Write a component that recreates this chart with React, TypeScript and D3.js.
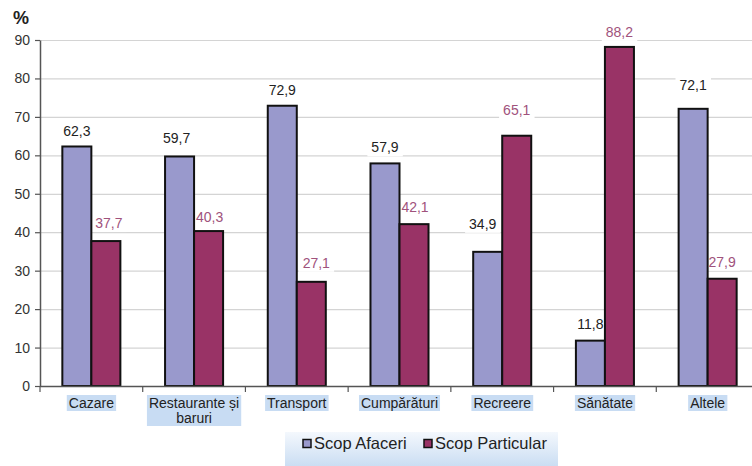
import React, { useEffect, useRef } from "react";
import * as d3 from "d3";

// Categories of spending and the share (%) by purpose of travel
const categories: string[][] = [
  ["Cazare"],
  ["Restaurante și", "baruri"],
  ["Transport"],
  ["Cumpărături"],
  ["Recreere"],
  ["Sănătate"],
  ["Altele"],
];
const seriesNames = ["Scop Afaceri", "Scop Particular"];
const afaceri = [62.3, 59.7, 72.9, 57.9, 34.9, 11.8, 72.1];
const particular = [37.7, 40.3, 27.1, 42.1, 65.1, 88.2, 27.9];
const yTicks = [0, 10, 20, 30, 40, 50, 60, 70, 80, 90];

// Layout
const W = 752;
const H = 466;
const left = 40;
const right = 759;
const top = 40;
const bottom = 386;
const colors = ["#9999cc", "#993366"];
const labelColors = ["#222222", "#a0527c"];
const FONT = "'Liberation Sans', Arial, sans-serif";
// vertical gap between each bar top and the centre of its value label
const labelLift = [
  [15, 18, 16, 16, 28, 17, 24],
  [18, 14, 19, 17, 26, 15, 17],
];
// small horizontal nudges of value labels
const labelShift = [
  [0, -3, 0, 0, -5, 0, 0],
  [3, 1, 5, 1, 0, 0, 0],
];

const fmt = (v: number) => v.toFixed(1).replace(".", ",");

export default function App() {
  const ref = useRef<SVGSVGElement | null>(null);

  useEffect(() => {
    const svg = d3.select(ref.current);
    svg.selectAll("*").remove();

    const keys = categories.map((c) => c.join(" "));
    const x = d3.scaleBand<string>().domain(keys).range([left, right]).padding(0);
    const xs = d3
      .scaleBand<string>()
      .domain(seriesNames)
      .range([0, x.bandwidth()])
      .paddingInner(0)
      .paddingOuter(0.77);
    const y = d3.scaleLinear().domain([0, 90]).range([bottom, top]);

    svg.append("rect").attr("width", W).attr("height", H).attr("fill", "#ffffff");

    const defs = svg.append("defs");
    const lg = defs
      .append("linearGradient")
      .attr("id", "legendBg")
      .attr("x1", 0)
      .attr("y1", 0)
      .attr("x2", 0)
      .attr("y2", 1);
    lg.append("stop").attr("offset", "0%").attr("stop-color", "#f4f8fd");
    lg.append("stop").attr("offset", "100%").attr("stop-color", "#c3d9f1");

    // gridlines
    svg
      .append("g")
      .selectAll("line")
      .data(yTicks.filter((t) => t > 0))
      .join("line")
      .attr("x1", left)
      .attr("x2", W)
      .attr("y1", (d) => y(d) + 0.5)
      .attr("y2", (d) => y(d) + 0.5)
      .attr("stroke", "#d4d4d4")
      .attr("stroke-width", 1.2);

    const data = [afaceri, particular];
    const plateLayer = svg.append("g");
    const barLayer = svg.append("g");
    const textLayer = svg.append("g");

    // bars
    data.forEach((vals, si) => {
      barLayer
        .append("g")
        .selectAll("rect")
        .data(vals)
        .join("rect")
        .attr("x", (_, i) => (x(keys[i]) as number) + (xs(seriesNames[si]) as number))
        .attr("y", (d) => y(d))
        .attr("width", xs.bandwidth())
        .attr("height", (d) => bottom - y(d))
        .attr("fill", colors[si])
        .attr("stroke", "#111111")
        .attr("stroke-width", 2);
    });

    // value labels on white plates (plates sit under the bars, over the grid)
    data.forEach((vals, si) => {
      vals.forEach((v, i) => {
        const cx =
          (x(keys[i]) as number) +
          (xs(seriesNames[si]) as number) +
          xs.bandwidth() / 2 +
          labelShift[si][i];
        const cy = y(v) - labelLift[si][i];
        const t = textLayer
          .append("text")
          .attr("x", cx)
          .attr("y", cy)
          .attr("text-anchor", "middle")
          .attr("dominant-baseline", "central")
          .attr("font-family", FONT)
          .attr("font-size", 14)
          .attr("fill", labelColors[si])
          .text(fmt(v));
        const bb = (t.node() as SVGTextElement).getBBox();
        plateLayer
          .append("rect")
          .attr("fill", "#ffffff")
          .attr("x", bb.x - 4)
          .attr("y", bb.y - 1)
          .attr("width", bb.width + 8)
          .attr("height", bb.height + 2);
      });
    });

    // y axis
    const ya = svg
      .append("g")
      .attr("transform", `translate(${left},0)`)
      .call(d3.axisLeft(y).tickValues(yTicks).tickSize(5).tickPadding(5).tickSizeOuter(0));
    ya.select(".domain").attr("stroke", "#555555").attr("stroke-width", 1.5);
    ya.selectAll(".tick line").attr("stroke", "#555555").attr("stroke-width", 1.2);
    ya.selectAll(".tick text")
      .attr("font-family", FONT)
      .attr("font-size", 14)
      .attr("fill", "#333333");

    // x axis line and boundary ticks
    svg
      .append("line")
      .attr("x1", left)
      .attr("x2", W)
      .attr("y1", bottom + 0.5)
      .attr("y2", bottom + 0.5)
      .attr("stroke", "#555555")
      .attr("stroke-width", 1.5);
    svg
      .append("g")
      .selectAll("line")
      .data(keys)
      .join("line")
      .attr("x1", (d) => x(d) as number)
      .attr("x2", (d) => x(d) as number)
      .attr("y1", bottom)
      .attr("y2", bottom + 6)
      .attr("stroke", "#555555")
      .attr("stroke-width", 1.2);

    // category labels with highlighted backgrounds
    categories.forEach((lines, i) => {
      const cx = (x(keys[i]) as number) + x.bandwidth() / 2;
      const g = svg.append("g");
      const bg = g.append("rect").attr("fill", "#c8dcf3");
      const t = g
        .append("text")
        .attr("text-anchor", "middle")
        .attr("font-family", FONT)
        .attr("font-size", 14)
        .attr("fill", "#222222");
      lines.forEach((ln, li) => {
        t.append("tspan")
          .attr("x", cx)
          .attr("y", 403 + li * 15)
          .attr("dominant-baseline", "central")
          .text(ln);
      });
      const bb = (t.node() as SVGTextElement).getBBox();
      bg.attr("x", bb.x - 2)
        .attr("y", bb.y)
        .attr("width", bb.width + 4)
        .attr("height", bb.height);
    });

    // axis unit
    svg
      .append("text")
      .attr("x", 13)
      .attr("y", 24)
      .attr("font-family", FONT)
      .attr("font-size", 18)
      .attr("font-weight", "bold")
      .attr("fill", "#222222")
      .text("%");

    // legend
    const lgG = svg.append("g");
    lgG.append("rect")
      .attr("x", 285)
      .attr("y", 432)
      .attr("width", 273)
      .attr("height", 40)
      .attr("fill", "url(#legendBg)");
    const itemX = [303, 424];
    seriesNames.forEach((name, si) => {
      lgG.append("rect")
        .attr("x", itemX[si])
        .attr("y", 439.5)
        .attr("width", 8)
        .attr("height", 8)
        .attr("fill", colors[si])
        .attr("stroke", "#111111")
        .attr("stroke-width", 1.5);
      lgG.append("text")
        .attr("x", itemX[si] + 11)
        .attr("y", 449)
        .attr("font-family", FONT)
        .attr("font-size", 16.5)
        .attr("fill", "#222222")
        .text(name);
    });
  }, []);

  return (
    <svg
      ref={ref}
      width={W}
      height={H}
      style={{ position: "absolute", left: 0, top: 0, display: "block" }}
    />
  );
}
